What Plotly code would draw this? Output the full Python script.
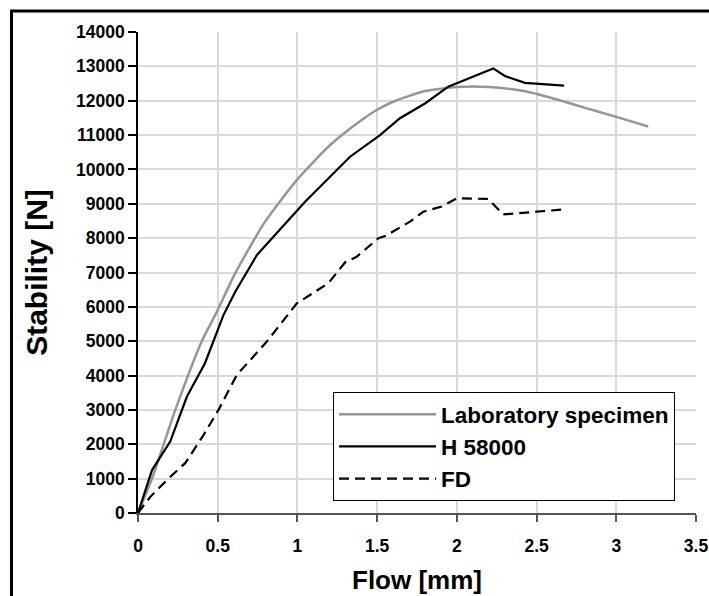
import plotly.graph_objects as go

lab_x = [0, 0.088, 0.234, 0.40, 0.495, 0.61, 0.797, 0.996, 1.205, 1.403, 1.497, 1.60, 1.80, 2.0, 2.2, 2.42, 2.6, 2.8, 3.0, 3.2]
lab_y = [0, 1000, 3000, 5000, 5860, 6980, 8480, 9690, 10710, 11440, 11730, 11970, 12280, 12400, 12400, 12280, 12070, 11800, 11530, 11250]

h_x = [0, 0.088, 0.202, 0.307, 0.42, 0.495, 0.536, 0.61, 0.746, 1.048, 1.33, 1.518, 1.643, 1.80, 1.946, 2.228, 2.301, 2.427, 2.673]
h_y = [0, 1250, 2080, 3390, 4360, 5280, 5760, 6440, 7510, 9060, 10370, 11000, 11490, 11920, 12410, 12940, 12720, 12520, 12440]

fd_x = [0, 0.077, 0.192, 0.296, 0.411, 0.505, 0.62, 0.808, 0.996, 1.09, 1.194, 1.30, 1.372, 1.508, 1.55, 1.706, 1.79, 1.905, 2.0, 2.197, 2.29, 2.5, 2.688]
fd_y = [0, 470, 1010, 1450, 2270, 3000, 4020, 4990, 6100, 6390, 6690, 7300, 7460, 8000, 8060, 8480, 8770, 8920, 9160, 9140, 8690, 8770, 8840]

x_ticks = [0, 0.5, 1, 1.5, 2, 2.5, 3, 3.5]
y_ticks = list(range(0, 14001, 1000))

FONT = "Liberation Sans, Arial, sans-serif"

fig = go.Figure()
fig.add_trace(go.Scatter(x=lab_x, y=lab_y, mode="lines", name="<b>Laboratory specimen</b>",
                         line=dict(color="#969696", width=2.5, shape="spline", smoothing=0.6)))
fig.add_trace(go.Scatter(x=h_x, y=h_y, mode="lines", name="<b>H 58000</b>",
                         line=dict(color="#000000", width=2.2)))
fig.add_trace(go.Scatter(x=fd_x, y=fd_y, mode="lines", name="<b>FD</b>",
                         line=dict(color="#000000", width=2.2, dash="10px,6px")))

W, H = 709, 596
L, R, T, B = 138, 13, 32, 83
pw, ph = W - L - R, H - T - B

def px_to_paper_x(p):
    return (p - L) / pw

def px_to_paper_y(p):
    return (H - B - p) / ph

fig.update_layout(
    width=W, height=H,
    margin=dict(l=L, r=R, t=T, b=B, autoexpand=False),
    paper_bgcolor="white", plot_bgcolor="white",
    font=dict(family=FONT, color="black"),
    showlegend=True,
    legend=dict(
        x=px_to_paper_x(333), y=px_to_paper_y(392), xanchor="left", yanchor="top",
        bgcolor="white", bordercolor="black", borderwidth=1,
        font=dict(family=FONT, size=22.5, color="black"),
        itemwidth=97, tracegroupgap=0,
    ),
    xaxis=dict(
        range=[0, 3.5], tickvals=x_ticks, ticktext=[f"<b>{v:g}</b>" for v in x_ticks],
        showgrid=True, gridcolor="#d9d9d9", gridwidth=1.5,
        showline=True, linecolor="#555555", linewidth=1.5,
        ticks="outside", ticklen=7, tickcolor="#555555", tickwidth=1.5,
        ticklabelstandoff=9, ticklabeloverflow="allow",
        tickfont=dict(family=FONT, size=17.5), zeroline=False, automargin=False,
        title=dict(text="<b>Flow [mm]</b>", font=dict(family=FONT, size=26), standoff=16),
    ),
    yaxis=dict(
        range=[0, 14000], tickvals=y_ticks, ticktext=[f"<b>{v}</b>" for v in y_ticks],
        showgrid=True, gridcolor="#d9d9d9", gridwidth=1.5,
        showline=True, linecolor="black", linewidth=1.5,
        ticks="outside", ticklen=8, tickcolor="black", tickwidth=1.5,
        ticklabeloverflow="allow",
        tickfont=dict(family=FONT, size=17.5), zeroline=False, automargin=False,
        title=dict(text="<b>Stability [N]</b>", font=dict(family=FONT, size=30), standoff=20),
    ),
    shapes=[dict(type="rect", xref="paper", yref="paper",
                 x0=px_to_paper_x(11.5), x1=px_to_paper_x(740),
                 y0=px_to_paper_y(640), y1=px_to_paper_y(11),
                 line=dict(color="black", width=3), fillcolor="rgba(0,0,0,0)", layer="below")],
)

fig.write_html("out.html")
